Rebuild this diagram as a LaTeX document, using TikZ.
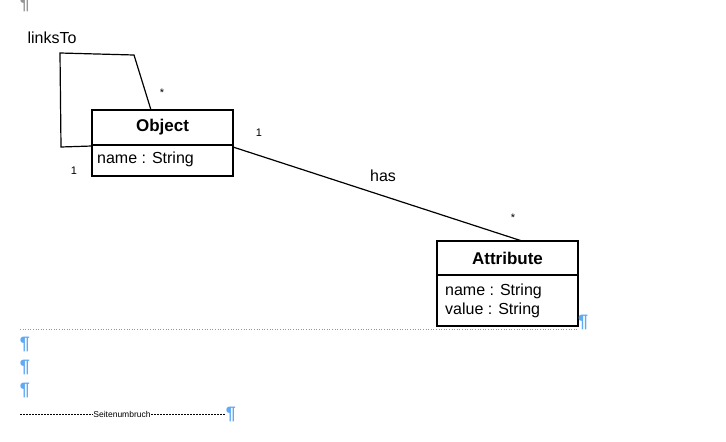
\documentclass[tikz,border=0pt]{standalone}
\usepackage{fontspec}
\setmainfont{Liberation Sans}
\usetikzlibrary{calc}
\definecolor{pilblue}{RGB}{95,170,245}
\definecolor{pilgray}{RGB}{150,150,150}
\tikzset{
  box/.style={draw, line width=1.2pt, minimum width=141pt, inner sep=0pt, outer sep=0pt},
  conn/.style={line width=1.2pt},
  lbl/.style={font=\fontsize{16}{19}\selectfont, inner sep=0pt},
  mult/.style={font=\fontsize{11}{12}\selectfont, inner sep=0pt},
  pil/.style={font=\fontsize{18}{20}\selectfont\bfseries, text=pilblue, inner sep=0pt},
}
\begin{document}
\begin{tikzpicture}[x=1pt,y=-1pt]
\useasboundingbox (0,0) rectangle (726,442);
% Object class
\node[box, minimum height=35pt, font=\fontsize{17}{19}\selectfont\bfseries] (objtitle) at (162.5,127.5) {Object};
\node[box, minimum height=31pt, anchor=north] (objattr) at (objtitle.south) {};
\node[lbl, anchor=west] (objname) at ($(objattr.west)+(5,-1)$) {name : String};
% Attribute class
\node[box, minimum height=34pt, font=\fontsize{17}{19}\selectfont\bfseries] (atttitle) at (507.5,258) {Attribute};
\node[box, minimum height=51pt, anchor=north] (attattr) at (atttitle.south) {};
\node[lbl, anchor=north west, align=left] (attlines) at ($(attattr.north west)+(8,9)$) {name : String\\[0pt]value : String};
% self loop
\coordinate (l1) at (61,147);
\coordinate (l2) at (60,53);
\coordinate (l3) at (134,55);
\draw[conn] ($(objtitle.south west)+(0,1)$) -- (l1) -- (l2) -- (l3) -- ($(objtitle.north west)+(59,0)$);
\node[lbl] (linksto) at (52,38) {linksTo};
\node[mult] (m1) at (162,93) {*};
\node[mult] (m2) at (74,171) {1};
% has association
\draw[conn] ($(objtitle.south east)+(0,2)$) -- ($(atttitle.north west)+(85,0)$);
\node[lbl] (has) at (383,176) {has};
\node[mult] (m3) at (259,133) {1};
\node[mult] (m4) at (513,218) {*};
% document marks
\node[pil, text=pilgray] (p0) at (25,4) {¶};
\draw[pilgray, dotted, line width=0.6pt] (20,329.5) -- (578,329.5);
\node[pil] (p1) at (583,322) {¶};
\node[pil] (p2) at (25,344) {¶};
\node[pil] (p3) at (25,367) {¶};
\node[pil] (p4) at (25,390) {¶};
\node[font=\fontsize{8.5}{9}\selectfont, inner sep=0.5pt, fill=white] (sb) at (122,414) {Seitenumbruch};
\draw[dashed, dash pattern=on 2pt off 1pt, line width=0.5pt] (20,414) -- (sb.west);
\draw[dashed, dash pattern=on 2pt off 1pt, line width=0.5pt] (sb.east) -- (226,414);
\node[pil] (p5) at (231,414) {¶};
\end{tikzpicture}
\end{document}
